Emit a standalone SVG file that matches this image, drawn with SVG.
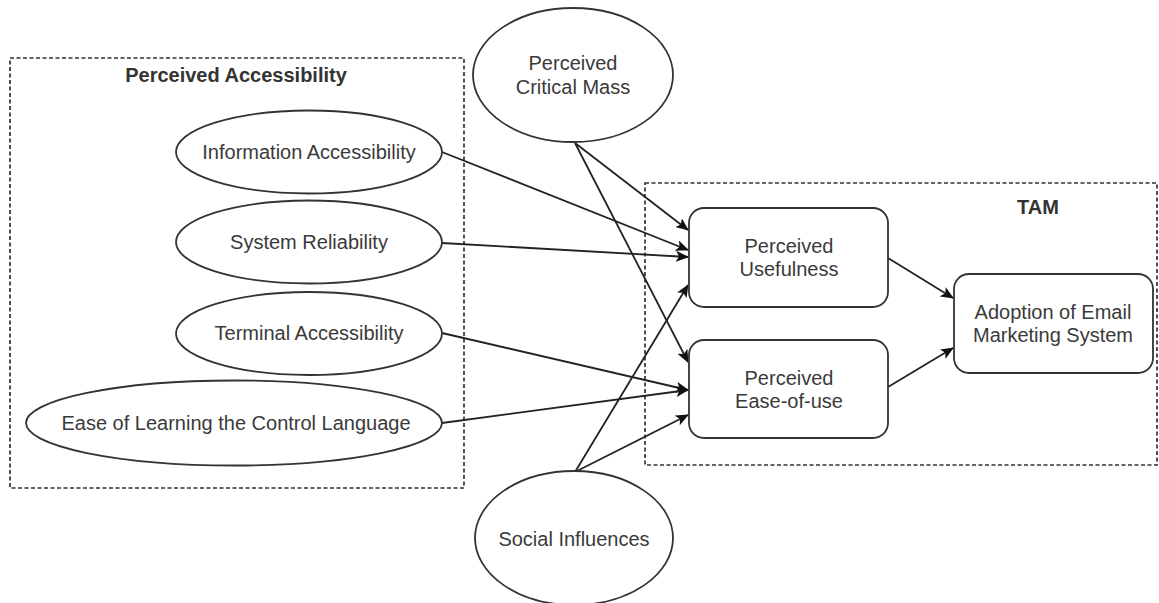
<svg xmlns="http://www.w3.org/2000/svg" width="1159" height="603" viewBox="0 0 1159 603">
  <style>
    .bg { fill: #ffffff; }
    .group { fill: none; stroke: #333333; stroke-width: 1.7; stroke-dasharray: 4 2.5; }
    .shape { fill: #ffffff; stroke: #333333; stroke-width: 1.8; }
    .label { font-family: "Liberation Sans", Arial, sans-serif; font-size: 20px; fill: #3a3a3a; text-anchor: middle; }
    .title { font-family: "Liberation Sans", Arial, sans-serif; font-size: 20px; font-weight: bold; fill: #333333; text-anchor: middle; }
    .edge { fill: none; stroke: #222222; stroke-width: 1.8; marker-end: url(#arrow); }
  </style>
  <defs>
    <marker id="arrow" viewBox="0 0 13 11" refX="12" refY="5.5" markerWidth="13" markerHeight="11" markerUnits="userSpaceOnUse" orient="auto">
      <path d="M0,0 L13,5.5 L0,11 L3,5.5 Z" fill="#111111"/>
    </marker>
  </defs>

  <rect class="bg" x="0" y="0" width="1159" height="603"/>

  <!-- Group frames -->
  <g id="perceived-accessibility-group">
    <rect class="group" x="10" y="58" width="454" height="430"/>
    <text class="title" x="236" y="82">Perceived Accessibility</text>
  </g>
  <g id="tam-group">
    <rect class="group" x="645" y="183" width="512" height="282"/>
    <text class="title" x="1038" y="214">TAM</text>
  </g>

  <!-- Connectors -->
  <g id="connectors">
    <line class="edge" x1="575" y1="143" x2="688" y2="230"/>
    <line class="edge" x1="575" y1="143" x2="688" y2="362"/>
    <line class="edge" x1="442" y1="152" x2="688" y2="250"/>
    <line class="edge" x1="442" y1="243" x2="688" y2="257"/>
    <line class="edge" x1="575" y1="472" x2="688" y2="285"/>
    <line class="edge" x1="442" y1="333" x2="688" y2="390"/>
    <line class="edge" x1="442" y1="423" x2="688" y2="390"/>
    <line class="edge" x1="575" y1="472" x2="688" y2="415"/>
    <line class="edge" x1="888" y1="258" x2="953" y2="298"/>
    <line class="edge" x1="888" y1="387" x2="953" y2="348"/>
  </g>

  <!-- Nodes -->
  <g id="information-accessibility">
    <ellipse class="shape" cx="309" cy="152" rx="133" ry="41.5"/>
    <text class="label" x="309" y="159">Information Accessibility</text>
  </g>
  <g id="system-reliability">
    <ellipse class="shape" cx="309" cy="242" rx="133" ry="41.5"/>
    <text class="label" x="309" y="249">System Reliability</text>
  </g>
  <g id="terminal-accessibility">
    <ellipse class="shape" cx="309" cy="333.5" rx="133" ry="41.5"/>
    <text class="label" x="309" y="340">Terminal Accessibility</text>
  </g>
  <g id="ease-of-learning">
    <ellipse class="shape" cx="234" cy="423" rx="208" ry="42.5"/>
    <text class="label" x="236" y="430">Ease of Learning the Control Language</text>
  </g>
  <g id="perceived-critical-mass">
    <ellipse class="shape" cx="573" cy="75" rx="100" ry="67"/>
    <text class="label" x="573" y="70">Perceived</text>
    <text class="label" x="573" y="94">Critical Mass</text>
  </g>
  <g id="social-influences">
    <ellipse class="shape" cx="574" cy="538" rx="99" ry="67"/>
    <text class="label" x="574" y="546">Social Influences</text>
  </g>
  <g id="perceived-usefulness">
    <rect class="shape" x="689" y="208" width="199" height="99" rx="15" ry="15"/>
    <text class="label" x="789" y="253">Perceived</text>
    <text class="label" x="789" y="276">Usefulness</text>
  </g>
  <g id="perceived-ease-of-use">
    <rect class="shape" x="689" y="340" width="199" height="98" rx="15" ry="15"/>
    <text class="label" x="789" y="385">Perceived</text>
    <text class="label" x="789" y="408">Ease-of-use</text>
  </g>
  <g id="adoption">
    <rect class="shape" x="954" y="274" width="199" height="99" rx="15" ry="15"/>
    <text class="label" x="1053" y="319">Adoption of Email</text>
    <text class="label" x="1053" y="342">Marketing System</text>
  </g>
</svg>
